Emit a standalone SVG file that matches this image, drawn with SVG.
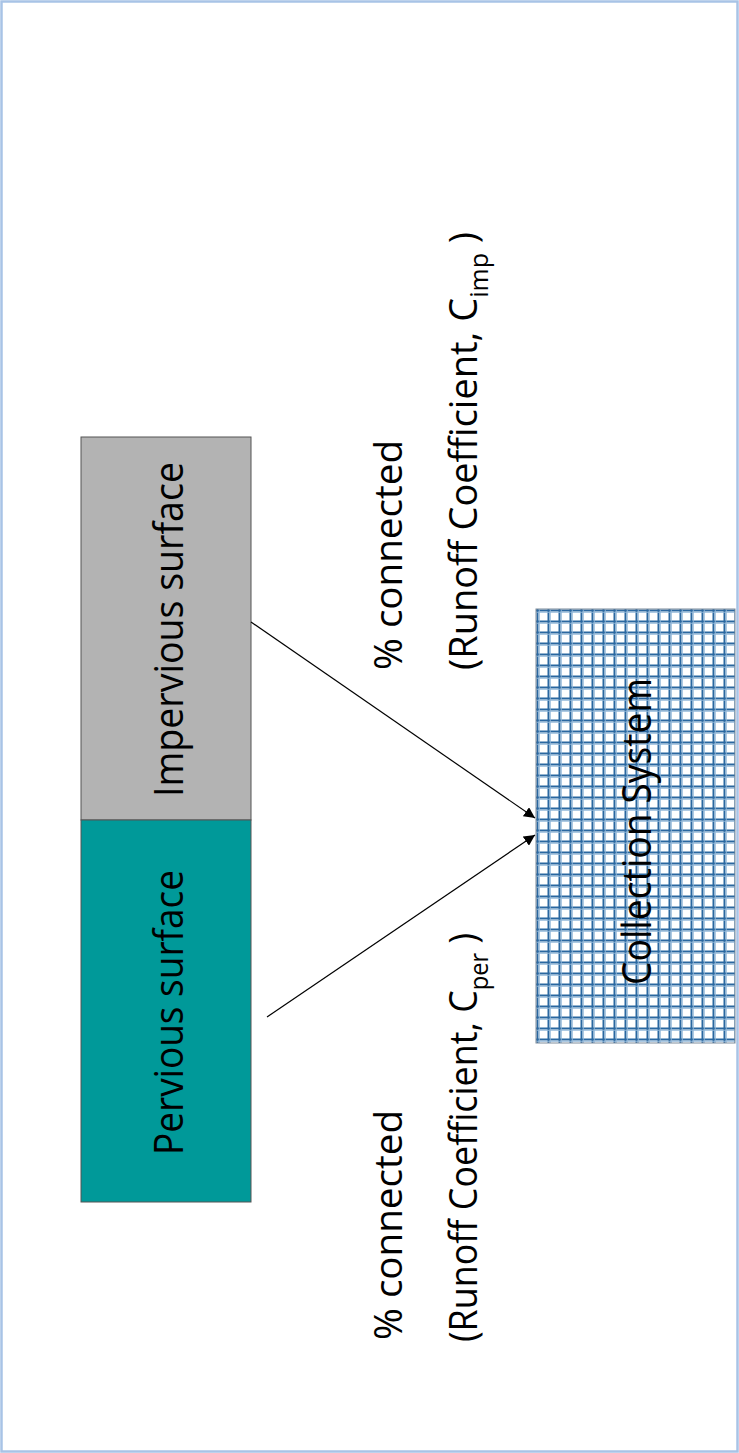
<svg xmlns="http://www.w3.org/2000/svg" width="739" height="1453" viewBox="0 0 739 1453">
  <defs>
    <style>
      .lbl { font-family: "Open Sans", "Liberation Sans", sans-serif; fill: #000; }
      .big { font-size: 41px; }
      .mid { font-size: 38px; }
      .sub { font-size: 25px; }
      .conn { stroke: #000; stroke-width: 1.2; fill: none; marker-end: url(#arrow); }
    </style>
    <marker id="arrow" viewBox="0 0 10 10" refX="10" refY="5" markerWidth="11" markerHeight="11" markerUnits="userSpaceOnUse" orient="auto">
      <path d="M0,0 L10,5 L0,10 z" fill="#000"/>
    </marker>
    <pattern id="grid" patternUnits="userSpaceOnUse" x="536" y="609" width="11" height="11">
      <rect width="11" height="11" fill="#fff"/>
      <path d="M1.5,0 V11 M0,1.5 H11" stroke="#2a67a0" stroke-width="2"/>
      <path d="M3.3,0 V11 M0,3.3 H11" stroke="#8fb4d8" stroke-width="0.9"/>
    </pattern>
  </defs>

  <rect x="0" y="0" width="739" height="1453" fill="#fff"/>
  <rect x="1.5" y="1.5" width="736" height="1450" fill="none" stroke="#a8c3e6" stroke-width="2.5"/>

  <g id="impervious">
    <rect x="81" y="437" width="170" height="383" fill="#b3b3b3" stroke="#555" stroke-width="1"/>
    <text class="lbl big" transform="translate(183,797) rotate(-90)" textLength="335" lengthAdjust="spacingAndGlyphs">Impervious surface</text>
  </g>

  <g id="pervious">
    <rect x="81" y="820" width="170" height="382" fill="#009999" stroke="#555" stroke-width="1"/>
    <text class="lbl big" transform="translate(183,1155) rotate(-90)" textLength="285" lengthAdjust="spacingAndGlyphs">Pervious surface</text>
  </g>

  <g id="collection">
    <rect x="536" y="609" width="199" height="434" fill="url(#grid)" stroke="#7d8c9c" stroke-width="1"/>
    <text class="lbl big" transform="translate(651,985) rotate(-90)" textLength="307" lengthAdjust="spacingAndGlyphs">Collection System</text>
  </g>

  <g id="label-imp">
    <text class="lbl mid" transform="translate(402,670) rotate(-90)" textLength="230" lengthAdjust="spacingAndGlyphs">% connected</text>
    <text class="lbl mid" transform="translate(477,670) rotate(-90)" textLength="438" lengthAdjust="spacingAndGlyphs">(Runoff Coefficient, C<tspan class="sub" dy="11">imp</tspan><tspan dy="-11"> )</tspan></text>
  </g>

  <g id="label-per">
    <text class="lbl mid" transform="translate(402,1340) rotate(-90)" textLength="230" lengthAdjust="spacingAndGlyphs">% connected</text>
    <text class="lbl mid" transform="translate(477,1342) rotate(-90)" textLength="409" lengthAdjust="spacingAndGlyphs">(Runoff Coefficient, C<tspan class="sub" dy="11">per</tspan><tspan dy="-11"> )</tspan></text>
  </g>

  <g id="connectors">
    <line class="conn" x1="251" y1="622" x2="535" y2="818"/>
    <line class="conn" x1="267" y1="1017" x2="535" y2="835"/>
  </g>
</svg>
